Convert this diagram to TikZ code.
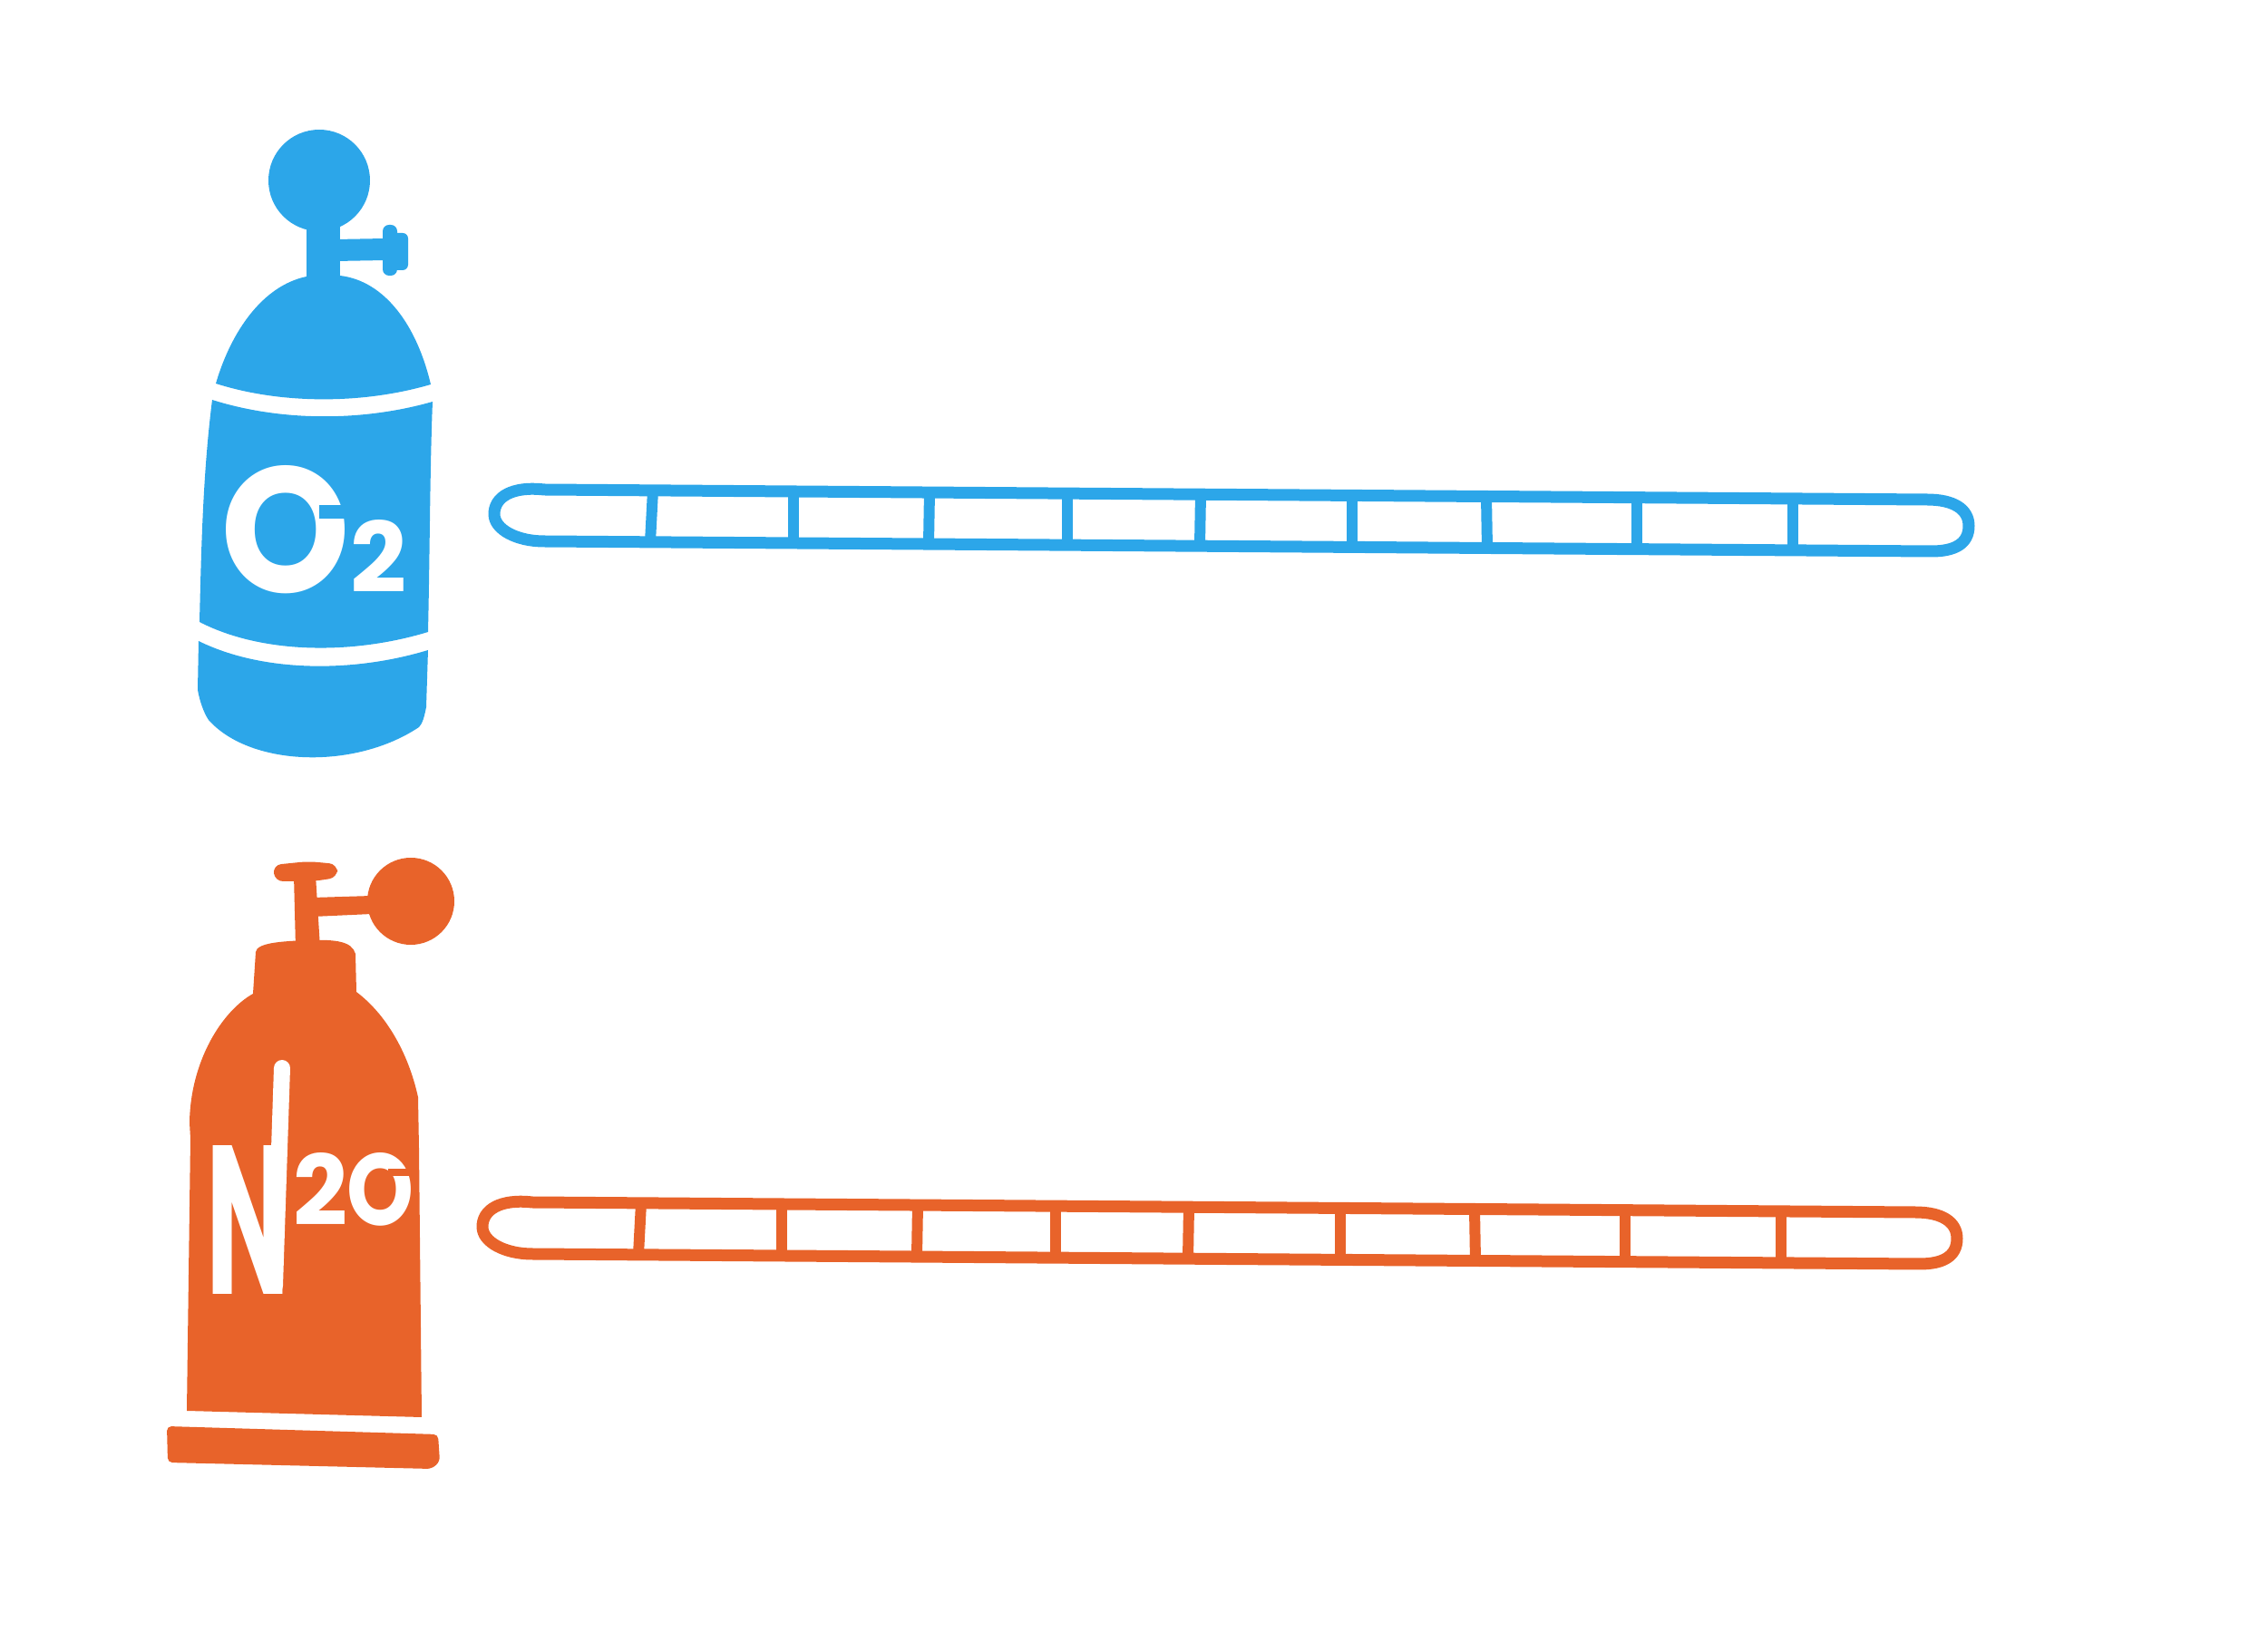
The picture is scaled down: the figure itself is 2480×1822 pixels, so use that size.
\documentclass[tikz,border=0pt]{standalone}
\usepackage{graphicx}
\usepackage{fontspec}
\newfontfamily\tankfont{Poppins}
\newlength\pxu \setlength\pxu{0.01cm}
\definecolor{oxblue}{HTML}{2CA6E9}
\definecolor{nitorange}{HTML}{E8632A}
\tikzset{
  tube/.style={draw=#1,line width=13\pxu,line join=round},
  tubetick/.style={draw=#1,line width=12\pxu},
  tankpart/.style={fill=#1,draw=none},
  tanklabel/.style={text=white,inner sep=0pt,anchor=base west,font=\tankfont\bfseries},
  pics/gauge/.style={code={
    \draw[tube=#1] (600,540) .. controls (565,536) and (545,548) .. (545,567)
      .. controls (545,584) and (570,597) .. (600,597) -- (2130,608)
      .. controls (2155,608) and (2171,600) .. (2171,580)
      .. controls (2171,562) and (2155,551) .. (2125,551) -- cycle;
    \foreach \xa/\xb in {720/717,875/875,1025/1024,1177/1177,1324/1323,1491/1491,1639/1640,1805/1805,1977/1977}{
      \draw[tubetick=#1] ({\xa},{540+0.00713*(\xa-590)}) -- ({\xb},{597+0.00707*(\xb-587)});
    }
  }}
}
\begin{document}
\begin{tikzpicture}[x=0.01cm,y=-0.01cm]
\useasboundingbox (0,0) rectangle (2480,1822);
% oxygen tank
\fill[tankpart=oxblue] (352,199) circle (56);
\fill[tankpart=oxblue] (338,250) -- (375,250) -- (375,310) -- (338,310) -- cycle;
\fill[tankpart=oxblue] (370,264) -- (425,263) -- (425,287) -- (370,288) -- cycle;
\fill[tankpart=oxblue,rounded corners=7\pxu] (422,248) rectangle (438,304);
\fill[tankpart=oxblue,rounded corners=6\pxu] (432,257) rectangle (450,298);
\fill[tankpart=oxblue] (238,423) .. controls (255,365) and (290,315) .. (338,305) -- (375,304)
  .. controls (425,310) and (460,360) .. (475,424) .. controls (400,446) and (310,446) .. (238,423) -- cycle;
\fill[tankpart=oxblue] (234,441) .. controls (310,465) and (400,465) .. (477,443)
  .. controls (474,520) and (474,610) .. (472,697) .. controls (390,722) and (290,722) .. (220,686)
  .. controls (222,600) and (224,520) .. (234,441) -- cycle;
\fill[tankpart=oxblue] (219,707) .. controls (290,742) and (390,742) .. (472,717)
  -- (470,780) .. controls (468,790) and (466,798) .. (462,802)
  .. controls (390,850) and (275,845) .. (230,794) .. controls (224,785) and (220,772) .. (218,761) -- cycle;
\node[tanklabel] (oxlabel) at (243,654) {\resizebox{143\pxu}{140\pxu}{O}\kern 0\pxu\resizebox{62\pxu}{80\pxu}{2}};
\fill[tankpart=oxblue] (352,557) -- (388,557) -- (388,572) -- (352,572) -- cycle;
% nitrous tank
\fill[tankpart=nitorange] (453,994) circle (48);
\fill[tankpart=nitorange] (345,990) -- (410,988) -- (410,1008) -- (345,1011) -- cycle;
\fill[tankpart=nitorange] (324,965) -- (348,965) -- (353,1045) -- (326,1045) -- cycle;
\fill[tankpart=nitorange,rounded corners=9\pxu] (301,954) -- (340,950) -- (372,953) -- (372,968) -- (345,972) -- (303,972) -- cycle;
\fill[tankpart=nitorange] (279,1096) -- (282,1050) .. controls (283,1040) and (310,1038) .. (340,1037)
  .. controls (370,1036) and (388,1038) .. (392,1052) -- (393,1094)
  .. controls (425,1118) and (450,1160) .. (461,1210)
  -- (462,1266) -- (465,1563) -- (206,1556) -- (210,1256) -- (209,1238)
  .. controls (210,1170) and (245,1115) .. (279,1096) -- cycle;
\fill[tankpart=nitorange,rounded corners=5\pxu] (184,1573) -- (483,1582) -- (485,1612) -- (476,1620) -- (185,1613) -- cycle;
\node[tanklabel] (nitlabel) at (227,1428) {\resizebox{92\pxu}{164\pxu}{N}\kern 4\pxu\raisebox{76\pxu}{\resizebox{60\pxu}{80\pxu}{2}\kern -1\pxu\resizebox{74\pxu}{80\pxu}{O}}};
\draw[white,line width=18\pxu,line cap=round] (nitlabel.base west) ++(84,-250) -- ++(-8,240);
\fill[tankpart=nitorange] (428,1289) -- (456,1289) -- (456,1297) -- (428,1297) -- cycle;
% gauges
\pic at (0,0) {gauge=oxblue};
\pic at (-13,786) {gauge=nitorange};
\end{tikzpicture}
\end{document}
